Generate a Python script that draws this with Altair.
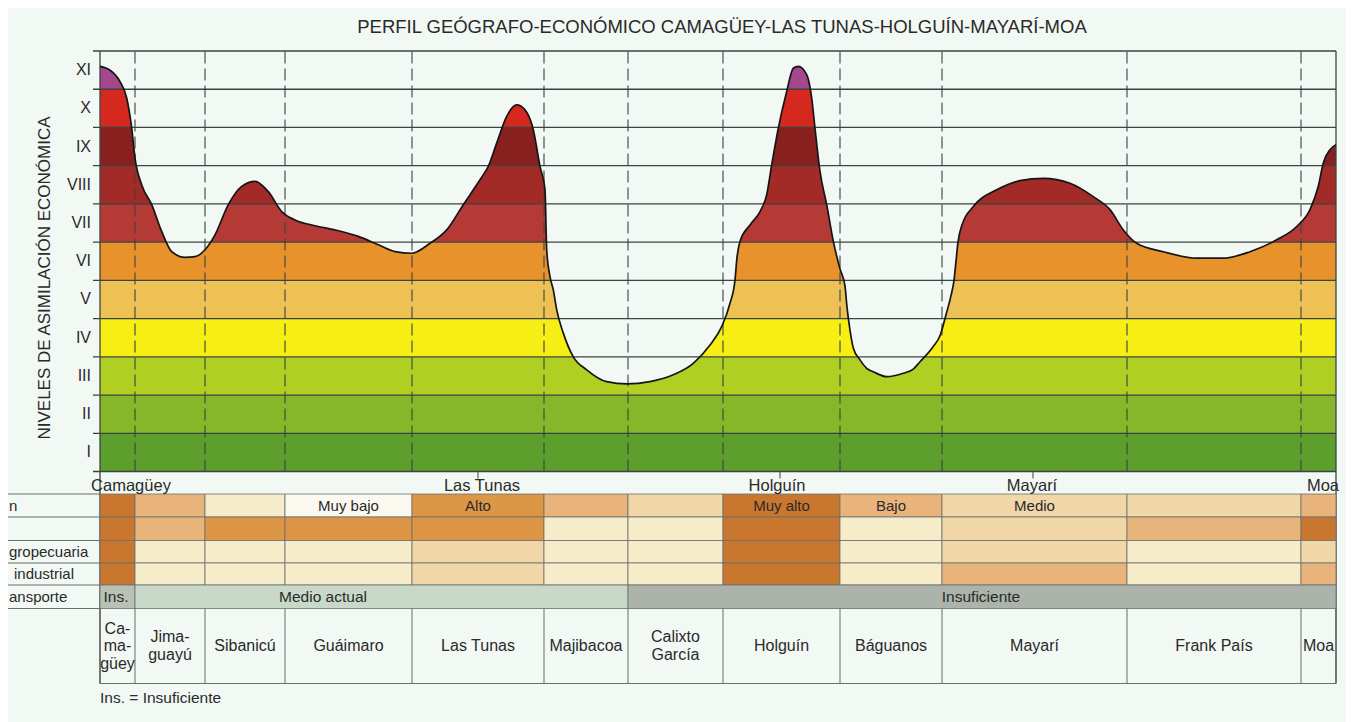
import altair as alt
import pandas as pd

# ---------------- data ----------------
TITLE = "PERFIL GEÓGRAFO-ECONÓMICO  CAMAGÜEY-LAS TUNAS-HOLGUÍN-MAYARÍ-MOA"
Y_TITLE = "NIVELES DE ASIMILACIÓN ECONÓMICA"

# profile: distance along the section (0 = Camagüey, 1236 = Moa) and level
distancia = [0, 10, 20, 26.7, 31.7, 35, 41.7, 51.7, 61.7, 71.7, 85, 95, 105, 115,
             128.3, 141.7, 155, 168.3, 181.7, 195, 215, 235, 258.3, 278.3, 295,
             311.7, 330, 346.7, 363.3, 380, 388.3, 396.7, 406.7, 416.7, 425, 433.3,
             440, 445, 446.7, 450, 453.3, 456.7, 463.3, 473.3, 486.7, 506.7, 526.7,
             550, 573.3, 593.3, 610, 621.7, 630, 635, 637, 640, 650, 660, 666.7,
             671.7, 678.3, 686.7, 693.3, 698.3, 706.7, 711.7, 715, 720, 726.7,
             733.3, 740, 745, 747, 750, 753.3, 760, 766.7, 773.3, 786.7, 803.3,
             813.3, 820, 833.3, 840, 846, 851, 854, 856, 858, 862, 873.3, 896.7,
             920, 943.3, 970, 993.3, 1010, 1023.3, 1036.7, 1063.3, 1096.7, 1123.3,
             1150, 1176.7, 1196.7, 1210, 1218.3, 1223.3, 1230, 1236]
nivel = [10.6, 10.5, 10.2, 9.77, 8.98, 8.2, 7.5, 6.98, 6.28, 5.75, 5.6, 5.62, 5.8,
         6.19, 6.98, 7.46, 7.59, 7.32, 6.8, 6.58, 6.43, 6.32, 6.15, 5.93, 5.75,
         5.71, 5.97, 6.32, 6.98, 7.63, 7.98, 8.59, 9.29, 9.59, 9.46, 8.94,
         7.98, 7.37, 5.8, 5.1, 4.75, 4.23, 3.62, 3.0, 2.66, 2.35, 2.29,
         2.35, 2.53, 2.83, 3.31, 3.79, 4.4, 5.01, 5.6, 6.02, 6.45, 6.8, 7.24,
         8.02, 8.98, 9.94, 10.55, 10.6, 10.38, 9.77, 8.98, 7.85, 6.98,
         6.02, 5.3, 4.85, 4.3, 3.7, 3.23, 2.92, 2.7, 2.61, 2.48, 2.57,
         2.68, 2.87, 3.27, 3.55, 4.1, 4.6, 5.0, 5.5, 6.0, 6.45, 6.93, 7.37,
         7.61, 7.67, 7.54, 7.19, 6.85, 6.32, 5.97, 5.75, 5.58, 5.58,
         5.75, 6.06, 6.41, 6.85, 7.46, 8.07, 8.42, 8.55]

niveles = ["I", "II", "III", "IV", "V", "VI", "VII", "VIII", "IX", "X", "XI"]
colores_nivel = ["#5c9f2d", "#86b62a", "#b1cf22", "#f7ee16", "#eec155", "#e8922b",
                 "#b53a36", "#a32b27", "#892020", "#d5291f", "#a4478d"]

municipios = ["Ca-\nma-\ngüey", "Jima-\nguayú", "Sibanicú", "Guáimaro", "Las Tunas",
              "Majibacoa", "Calixto\nGarcía", "Holguín", "Báguanos", "Mayarí",
              "Frank País", "Moa"]
limites = [0, 35, 105, 185, 312, 444, 528, 623, 740, 842, 1027, 1201, 1236]

ciudades = ["Camagüey", "Las Tunas", "Holguín", "Mayarí", "Moa"]
ciudades_pos = [31, 382, 677, 932, 1223]
marcas_ciudad = [378, 680, 933]

filas_etiqueta = ["n", "", "gropecuaria", "industrial", "ansporte"]
fila1 = ["oscuro", "naranja claro", "crema", "blanco", "naranja", "naranja claro",
         "melocotón", "oscuro", "naranja claro", "melocotón", "melocotón", "naranja claro"]
fila1_texto = ["", "", "", "Muy bajo", "Alto", "", "", "Muy alto", "Bajo", "Medio", "", ""]
fila2 = ["oscuro", "naranja claro", "naranja", "naranja", "naranja", "crema",
         "crema", "oscuro", "crema", "melocotón", "naranja claro", "oscuro"]
fila3 = ["oscuro", "crema", "crema", "crema", "melocotón", "crema",
         "crema", "oscuro", "crema", "melocotón", "crema", "melocotón"]
fila4 = ["oscuro", "crema", "crema", "crema", "melocotón", "crema",
         "crema", "oscuro", "crema", "naranja claro", "crema", "naranja claro"]
paleta = {"oscuro": "#c9772f", "naranja": "#dc9646", "naranja claro": "#e9b47c",
          "melocotón": "#f1d6a8", "crema": "#f6ecc9", "blanco": "#fbf9ef"}

transporte = ["Ins.", "Medio actual", "Insuficiente"]
transporte_desde = [0, 35, 528]
transporte_hasta = [35, 528, 1236]
transporte_color = ["#b9c1b5", "#c9d9c9", "#abb3aa"]
transporte_texto_pos = [16, 223, 881]

NOTA = "Ins. = Insuficiente"

# ---------------- layout helpers ----------------
BG = "#f2f8f4"
FONT = "Liberation Sans"
W, H = 1236, 669
Y_LO, Y_HI = -6.5, 11
PX = H / (Y_HI - Y_LO)


def lv(py):
    """page pixel row -> level units of the shared y scale"""
    return (471.5 - py) / PX


def px(pxx):
    """page pixel column -> distance units"""
    return pxx - 100


XS = alt.Scale(domain=[0, W], nice=False, zero=False)
YS = alt.Scale(domain=[Y_LO, Y_HI], nice=False, zero=False)


def X(f):
    return alt.X(f, type="quantitative", scale=XS, axis=None)


def Y(f):
    return alt.Y(f, type="quantitative", scale=YS, axis=None)


edges = [lv(v) for v in [494, 517, 540.5, 563, 585, 608.5, 683.5]]

# ---------------- tables ----------------
curva = pd.DataFrame({"distancia": distancia, "nivel": nivel})
bandas = pd.DataFrame({"lo": list(range(11)), "hi": list(range(1, 12)),
                       "x0": 0, "x1": W, "color": colores_nivel, "nombre": niveles})

celdas = []
for r, fila in enumerate([fila1, fila2, fila3, fila4]):
    for c, code in enumerate(fila):
        celdas.append({"x0": limites[c], "x1": limites[c + 1],
                       "y0": edges[r + 1], "y1": edges[r], "color": paleta[code]})
for t, a, b, col in zip(transporte, transporte_desde, transporte_hasta, transporte_color):
    celdas.append({"x0": a, "x1": b, "y0": edges[5], "y1": edges[4], "color": col})
celdas = pd.DataFrame(celdas)

# ---------------- layers ----------------
band_layer = alt.Chart(bandas).mark_rect().encode(
    x=X("x0"), x2=alt.X2("x1"), y=Y("lo"), y2=alt.Y2("hi"),
    color=alt.Color("color:N", scale=None))

cover = alt.Chart(curva).mark_area(interpolate="monotone", color=BG).encode(
    x=X("distancia"), y=Y("nivel"), y2=alt.datum(Y_HI))

hgrid = alt.Chart(pd.DataFrame({"y": list(range(12)), "a": -7, "b": W})).mark_rule(
    color="#3b4441", strokeWidth=1.3).encode(x=X("a"), x2=alt.X2("b"), y=Y("y"))

vdash = alt.Chart(pd.DataFrame({"x": limites[1:-1], "a": 0, "b": 11})).mark_rule(
    color="#3b4441", strokeWidth=1.1, strokeDash=[12, 5]).encode(
    x=X("x"), y=Y("a"), y2=alt.Y2("b"))

vedge = alt.Chart(pd.DataFrame({"x": [0, W], "a": edges[-1], "b": 11})).mark_rule(
    color="#3b4441", strokeWidth=1.3).encode(x=X("x"), y=Y("a"), y2=alt.Y2("b"))

line = alt.Chart(curva).mark_line(interpolate="monotone", color="#151515",
                                  strokeWidth=1.7).encode(
    x=X("distancia"), y=Y("nivel"))

cells = alt.Chart(celdas).mark_rect(stroke="#6a6f6c", strokeWidth=0.8).encode(
    x=X("x0"), x2=alt.X2("x1"), y=Y("y0"), y2=alt.Y2("y1"),
    color=alt.Color("color:N", scale=None))

row_lines = alt.Chart(pd.DataFrame({"y": edges[:6], "a": -100, "b": 0})).mark_rule(
    color="#6a6f6c", strokeWidth=1).encode(x=X("a"), x2=alt.X2("b"), y=Y("y"))

name_v = alt.Chart(pd.DataFrame({"x": limites, "a": edges[6], "b": edges[5]})).mark_rule(
    color="#6a6f6c", strokeWidth=1).encode(x=X("x"), y=Y("a"), y2=alt.Y2("b"))

name_h = alt.Chart(pd.DataFrame({"y": [edges[6]], "a": 0, "b": W})).mark_rule(
    color="#6a6f6c", strokeWidth=1).encode(x=X("a"), x2=alt.X2("b"), y=Y("y"))

ticks = alt.Chart(pd.DataFrame({"x": marcas_ciudad, "a": lv(478.5), "b": 0})).mark_rule(
    color="#3b4441", strokeWidth=1).encode(x=X("x"), y=Y("a"), y2=alt.Y2("b"))

TXT = dict(font=FONT, color="#2a2a2a", baseline="middle")

title = alt.Chart(pd.DataFrame({"x": [px(722)], "y": [lv(27)], "t": [TITLE]})).mark_text(
    fontSize=18.5, align="center", **TXT).encode(x=X("x"), y=Y("y"), text="t:N")

ytitle = alt.Chart(pd.DataFrame({"x": [px(45)], "y": [lv(278)], "t": [Y_TITLE]})).mark_text(
    fontSize=17, align="center", angle=270, **TXT).encode(x=X("x"), y=Y("y"), text="t:N")

roman = alt.Chart(pd.DataFrame({"x": px(91), "y": [k + 0.5 for k in range(11)],
                                "t": niveles})).mark_text(
    fontSize=16, align="right", **TXT).encode(x=X("x"), y=Y("y"), text="t:N")

city = alt.Chart(pd.DataFrame({"x": ciudades_pos, "y": lv(485.5), "t": ciudades})).mark_text(
    fontSize=16.5, align="center", **TXT).encode(x=X("x"), y=Y("y"), text="t:N")

centros = [(limites[i] + limites[i + 1]) / 2 for i in range(12)]

r1 = alt.Chart(pd.DataFrame({"x": centros, "y": (edges[0] + edges[1]) / 2,
                             "t": fila1_texto})).mark_text(
    fontSize=15, align="center", **TXT).encode(x=X("x"), y=Y("y"), text="t:N")

tr = alt.Chart(pd.DataFrame({"x": transporte_texto_pos, "y": (edges[4] + edges[5]) / 2,
                             "t": transporte})).mark_text(
    fontSize=15.5, align="center", **TXT).encode(x=X("x"), y=Y("y"), text="t:N")

LH = 17.5
names_df = pd.DataFrame({"x": centros, "t": municipios})
names_df["y"] = [lv(646 - (t.count("\n")) * LH / 2) for t in municipios]
names = alt.Chart(names_df).mark_text(
    fontSize=16, align="center", lineBreak="\n", lineHeight=LH, **TXT).encode(
    x=X("x"), y=Y("y"), text="t:N")

row_lbl = alt.Chart(pd.DataFrame({
    "x": [px(9), px(9), px(9), px(14), px(9)],
    "y": [(edges[i] + edges[i + 1]) / 2 for i in range(5)],
    "t": filas_etiqueta})).mark_text(fontSize=15, align="left", **TXT).encode(
    x=X("x"), y=Y("y"), text="t:N")

nota = alt.Chart(pd.DataFrame({"x": [0], "y": [lv(698)], "t": [NOTA]})).mark_text(
    fontSize=15.5, align="left", **TXT).encode(x=X("x"), y=Y("y"), text="t:N")

chart = alt.layer(
    band_layer, cover, hgrid, vdash, vedge, line,
    cells, row_lines, name_v, name_h, ticks,
    title, ytitle, roman, city, r1, tr, names, row_lbl, nota
).properties(
    width=W, height=H,
    autosize=alt.AutoSizeParams(type="none"),
    padding={"left": 92, "top": 43, "right": 10, "bottom": 2},
    background=BG,
).configure_view(stroke=None)

chart.save("out.html", embed_options={"renderer": "svg", "actions": False})
